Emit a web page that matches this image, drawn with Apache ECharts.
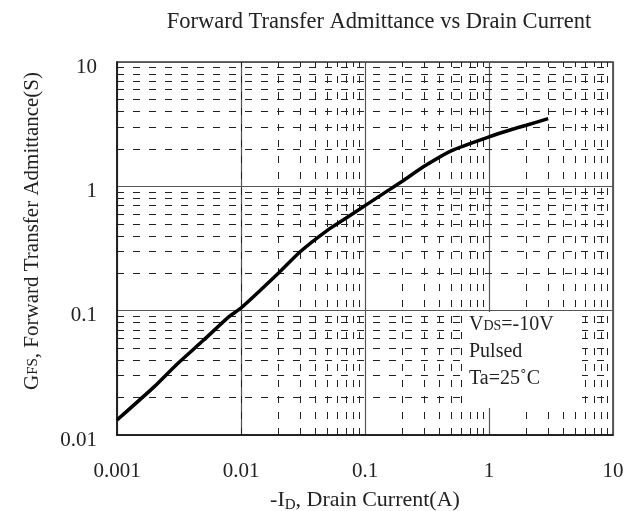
<!DOCTYPE html>
<html>
<head>
<meta charset="utf-8">
<script src="https://cdn.jsdelivr.net/npm/echarts@6/dist/echarts.min.js"></script>
<style>html,body{margin:0;padding:0;background:#fff}#c{width:626px;height:511px}</style>
</head>
<body>
<div id="c"></div>
<script>
const chartTitle = 'Forward Transfer Admittance vs Drain Current';
const currentA = [0.001, 0.002, 0.003, 0.005, 0.008, 0.01, 0.02, 0.03, 0.05, 0.07, 0.1, 0.2, 0.3, 0.5, 1, 1.5, 2, 3];
const admittanceS = [0.0132, 0.0245, 0.0366, 0.058, 0.0896, 0.105, 0.2, 0.298, 0.445, 0.553, 0.70, 1.1, 1.45, 1.94, 2.5, 2.85, 3.1, 3.5];
const xDecades = [0.001, 0.01, 0.1, 1];
const yDecades = [0.01, 0.1, 1];
const minorSteps = [2, 3, 4, 5, 6, 7, 8, 9];
const noteLines = ['V{s|DS}=-10V', 'Pulsed', 'Ta=25˚C'];

const FONT = 'Liberation Serif';
const xMinor = [];
xDecades.forEach(d => minorSteps.forEach(m => xMinor.push(+(d * m).toPrecision(3))));
const yMinor = [];
yDecades.forEach(d => minorSteps.forEach(m => yMinor.push(+(d * m).toPrecision(3))));

const fmt = v => String(+(+v).toPrecision(3));

const chart = echarts.init(document.getElementById('c'), null, {renderer: 'canvas'});
chart.setOption({
  animation: false,
  backgroundColor: '#fff',
  title: {
    text: chartTitle, left: 374, top: 6, textAlign: 'center',
    textStyle: {fontFamily: FONT, fontSize: 22.5, fontWeight: 'normal', color: '#222'}
  },
  grid: {left: 117, right: 13, top: 62, bottom: 76, containLabel: false, outerBoundsMode: 'none',
    show: true, borderColor: '#333', borderWidth: 1.5, backgroundColor: 'transparent'},
  xAxis: {
    type: 'log', logBase: 10, min: 0.001, max: 10,
    name: '-I{s|D}, Drain Current(A)', nameLocation: 'middle', nameGap: 50,
    nameTextStyle: {fontFamily: FONT, fontSize: 22, lineHeight: 26, color: '#222',
      rich: {s: {fontFamily: FONT, fontSize: 15, lineHeight: 16, color: '#222', verticalAlign: 'bottom'}}},
    axisLine: {show: true, lineStyle: {color: '#111', width: 1.5}},
    axisTick: {show: false},
    axisLabel: {fontFamily: FONT, fontSize: 21, color: '#222', margin: 26, formatter: fmt},
    splitLine: {show: true, lineStyle: {color: '#555', width: 1.2}}
  },
  yAxis: {
    type: 'log', logBase: 10, min: 0.01, max: 10,
    name: 'G{s|FS}, Forward Transfer Admittance(S)', nameLocation: 'middle', nameGap: 72, nameRotate: 90,
    nameTextStyle: {fontFamily: FONT, fontSize: 21, lineHeight: 26, color: '#222', padding: [0, 0, 0, 35],
      rich: {s: {fontFamily: FONT, fontSize: 15, color: '#222', padding: [3, 0, 0, 0]}}},
    axisLine: {show: true, lineStyle: {color: '#111', width: 1.5}},
    axisTick: {show: false},
    axisLabel: {fontFamily: FONT, fontSize: 21, color: '#222', margin: 20, verticalAlign: 'top', lineHeight: 10, formatter: fmt},
    splitLine: {show: true, lineStyle: {color: '#555', width: 1.2}}
  },
  series: [
    {
      type: 'line', data: [], silent: true,
      markLine: {
        silent: true, symbol: 'none', label: {show: false}, animation: false,
        lineStyle: {color: '#222', width: 1, type: [7, 9]},
        data: xMinor.map(v => ({xAxis: v})).concat(yMinor.map(v => ({yAxis: v})))
      }
    },
    {
      type: 'line', name: 'GFS', smooth: 0.2, showSymbol: false, z: 5,
      lineStyle: {color: '#000', width: 3.5},
      data: currentA.map((x, i) => [x, admittanceS[i]])
    }
  ],
  graphic: [
    {
      type: 'rect', z: 100, shape: {x: 463, y: 312, width: 119, height: 96},
      style: {fill: '#fff'}
    },
    {
      type: 'text', z: 101, x: 469, y: 311,
      style: {
        text: noteLines.join('\n'), fontFamily: FONT, fontSize: 20, fill: '#222', lineHeight: 27,
        rich: {s: {fontFamily: FONT, fontSize: 14, fill: '#222', padding: [3, 0, 0, 0]}}
      }
    }
  ]
});
</script>
</body>
</html>
